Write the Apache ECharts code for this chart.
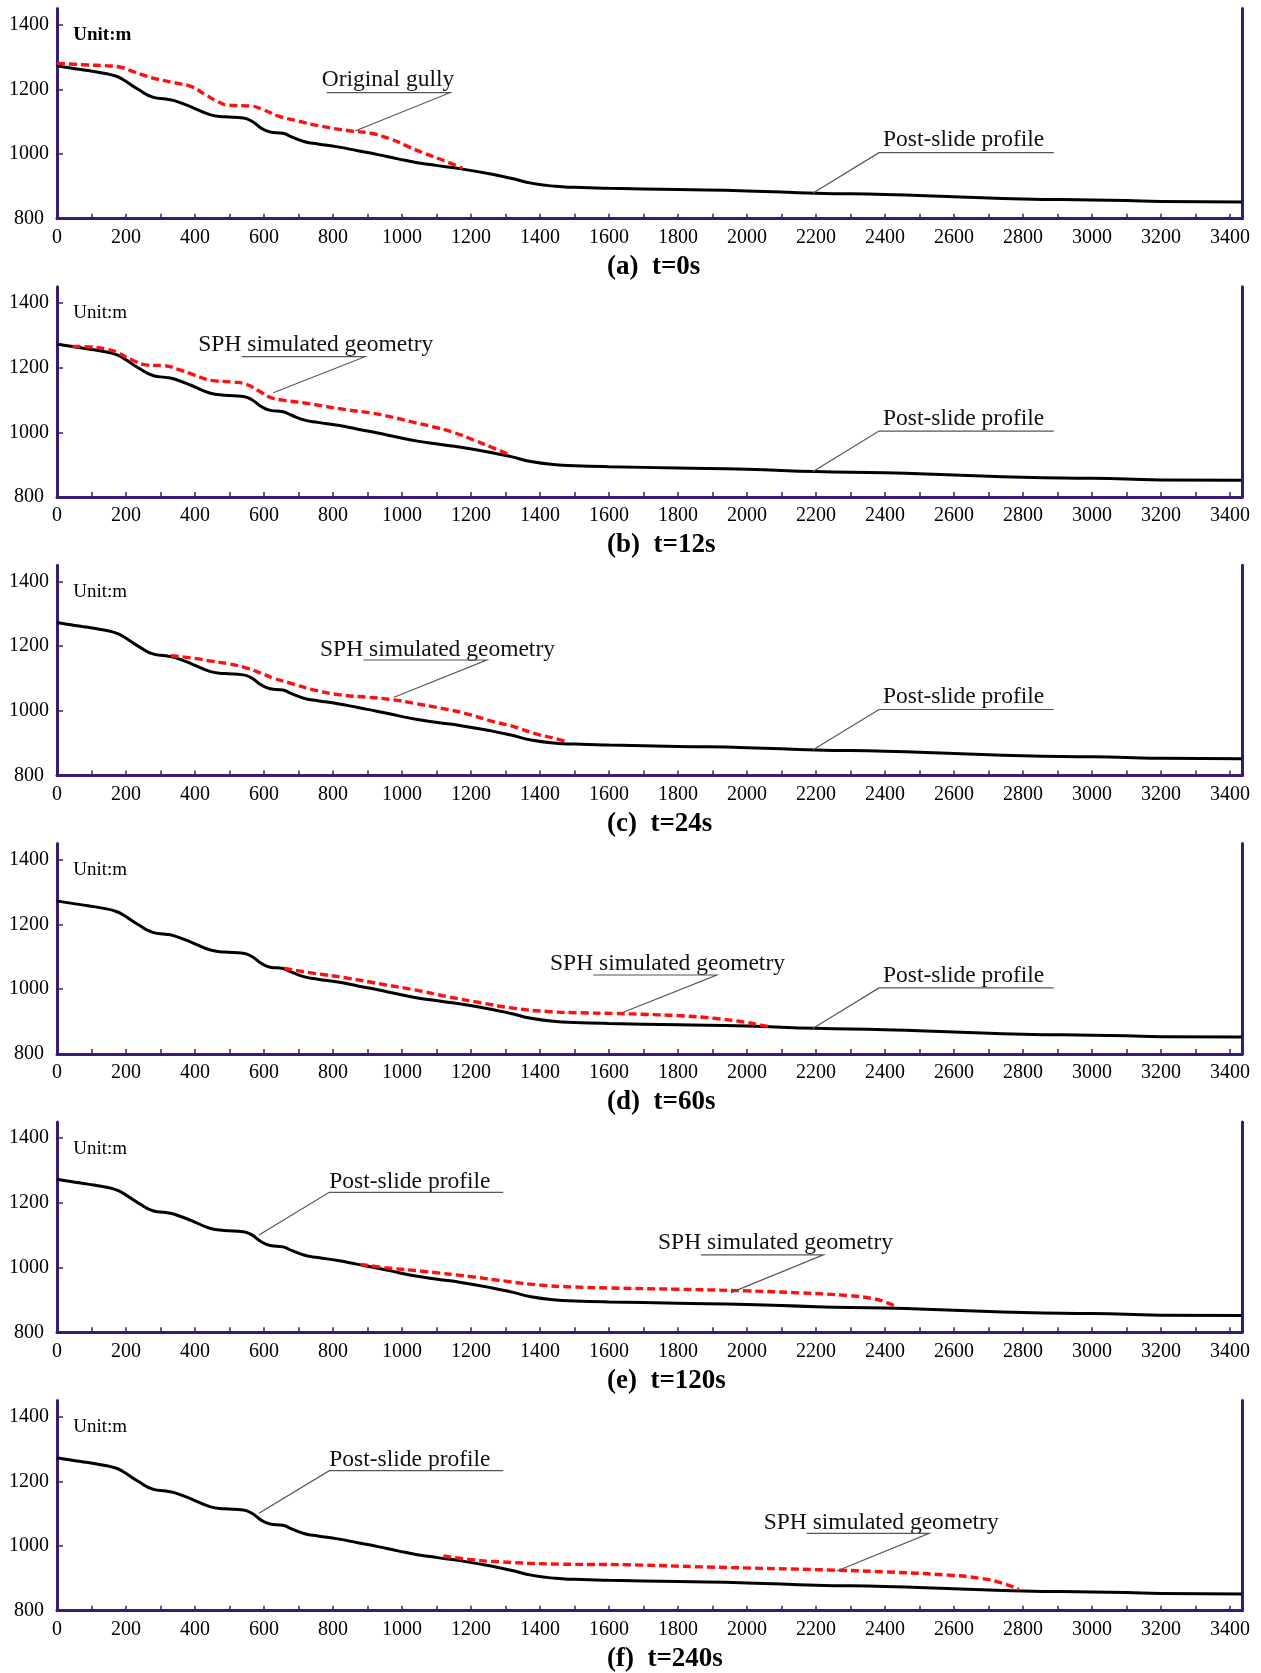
<!DOCTYPE html>
<html>
<head>
<meta charset="utf-8">
<script src="https://cdn.jsdelivr.net/npm/echarts@6/dist/echarts.min.js"></script>
<style>
html,body{margin:0;padding:0;background:#ffffff;}
#chart{width:1261px;height:1673px;}
</style>
</head>
<body>
<div id="chart"></div>
<script>
// ---------------- DATA (metres) ----------------
// Post-slide profile (same in every panel): [distance, elevation]
const postSlideProfile = [
  [0,1273],[40,1266],[90,1258],[140,1249],[170,1241],[190,1231],[235,1200],[280,1175],
  [315,1170],[340,1165],[390,1145],[445,1121],[485,1115],[540,1111],[565,1101],[592,1080],
  [618,1068],[655,1064],[680,1053],[718,1038],[756,1031],[814,1022],[872,1010],[930,998],
  [988,985],[1045,973],[1103,964],[1171,954],[1258,938],[1316,925],[1374,910],[1446,900],
  [1500,897],[1600,894],[1800,890],[2000,886],[2200,879],[2400,875],[2600,868],[2800,861],
  [3000,858],[3100,856],[3200,853],[3435,852]
];
// (a) t=0s : original gully
const originalGully = [
  [0,1280],[40,1278],[90,1275],[140,1273],[185,1268],[215,1257],[255,1242],[292,1231],
  [350,1218],[390,1208],[428,1185],[466,1162],[495,1151],[563,1148],[600,1136],[640,1118],
  [698,1102],[765,1086],[852,1071],[910,1064],[968,1046],[1007,1028],[1065,1002],[1123,979],[1175,956]
];
// SPH simulated geometry at the later times
const sph12s = [
  [45,1266],[100,1264],[148,1256],[177,1246],[215,1225],[264,1208],[312,1206],[351,1195],
  [399,1177],[447,1161],[505,1156],[548,1149],[582,1130],[621,1107],[659,1099],[717,1091],
  [775,1081],[833,1071],[910,1060],[968,1048],[1026,1033],[1084,1019],[1152,999],[1209,976],
  [1258,955],[1310,932]
];
const sph24s = [
  [330,1170],[400,1162],[450,1153],[500,1145],[553,1131],[592,1116],[630,1100],[678,1085],
  [746,1064],[823,1049],[900,1042],[968,1035],[1036,1023],[1113,1008],[1190,990],[1267,966],
  [1325,951],[1383,930],[1441,915],[1480,903]
];
const sph60s = [
  [659,1064],[746,1049],[843,1034],[939,1016],[1036,998],[1132,977],[1229,958],[1325,941],
  [1422,931],[1518,927],[1615,925],[1711,922],[1808,918],[1904,910],[1982,900],[2040,889],[2067,884]
];
const sph120s = [
  [880,1010],[950,1000],[1065,988],[1200,972],[1300,958],[1400,946],[1500,940],[1600,937],
  [1800,933],[2000,928],[2150,922],[2300,913],[2370,903],[2405,892],[2435,878]
];
const sph240s = [
  [1120,969],[1200,958],[1283,951],[1457,944],[1653,942],[1886,935],[2235,926],[2400,920],
  [2584,910],[2677,900],[2735,887],[2788,866]
];
// tick labels
const xTickLabels = [0,200,400,600,800,1000,1200,1400,1600,1800,2000,2200,2400,2600,2800,3000,3200,3400];
const xMinorTicks = [100,200,300,400,500,600,700,800,900,1000,1100,1200,1300,1400,1500,1600,1700,
  1800,1900,2000,2100,2200,2300,2400,2500,2600,2700,2800,2900,3000,3100,3200,3300,3400];
const yTickLabels = [800,1000,1200,1400];
const yTicks = [1000,1200,1400];
const panelCaptions = ['(a)  t=0s','(b)  t=12s','(c)  t=24s','(d)  t=60s','(e)  t=120s','(f)  t=240s'];
const panelRedLines = [originalGully, sph12s, sph24s, sph60s, sph120s, sph240s];

// ---------------- LAYOUT ----------------
const PURPLE = '#3a1a72';
const SERIF = '"Liberation Serif","Times New Roman",serif';
const PANEL_STEP = 278.4;
const GRID_TOP0 = 8.4, GRID_H = 210.3, GRID_LEFT = 57, GRID_RIGHT = 19;
const X_MAX = 3435, Y_MIN = 800, Y_MAX = 1450;
const ANN_FONT = 23.5;

// annotation layout (pixel positions relative to panel offset)
const postA = {t:'Post-slide profile', tx:883, ty:140, u:[879,1053.7,152.7], from:'L', to:[812.7,193.3]};
const postE = {t:'Post-slide profile', tx:329.3, ty:68, u:[329.3,503.2,78.7], from:'L', to:[259,121.3]};
const annotations = [
  [{t:'Original gully', tx:321.7, ty:79.3, u:[326.7,450,92.7], from:'R', to:[355,131]}, postA],
  [{t:'SPH simulated geometry', tx:198.3, ty:66.6, u:[241.7,365,78.3], from:'R', to:[273.3,114.3]}, postA],
  [{t:'SPH simulated geometry', tx:320, ty:92.5, u:[363.3,486.7,103.2], from:'R', to:[394,140.5]}, postA],
  [{t:'SPH simulated geometry', tx:550, ty:128.1, u:[593.3,716.7,139.8], from:'R', to:[623.3,177.1]}, postA],
  [postE, {t:'SPH simulated geometry', tx:658, ty:129, u:[701,823.4,141.3], from:'R', to:[731,179]}],
  [postE, {t:'SPH simulated geometry', tx:763.7, ty:130.7, u:[806.7,929.2,141.3], from:'R', to:[836.8,179]}]
];

const plain = v => String(v);
const grids = [], xAxes = [], yAxes = [], series = [], graphics = [];
for (let i = 0; i < 6; i++) {
  const off = PANEL_STEP * i;
  grids.push({left: GRID_LEFT, right: GRID_RIGHT, top: GRID_TOP0 + off, height: GRID_H, containLabel: false});
  xAxes.push({
    type:'value', gridIndex:i, min:0, max:X_MAX,
    axisLine:{show:true, onZero:false, lineStyle:{color:PURPLE, width:3}},
    axisTick:{show:true, inside:true, length:5, customValues:xMinorTicks, lineStyle:{color:PURPLE, width:1.5}},
    axisLabel:{show:true, customValues:xTickLabels, formatter:plain, color:'#000', fontFamily:SERIF, fontSize:20, margin:9},
    splitLine:{show:false}
  });
  yAxes.push({
    type:'value', gridIndex:i, min:Y_MIN, max:Y_MAX, position:'left',
    axisLine:{show:true, onZero:false, lineStyle:{color:PURPLE, width:3}},
    axisTick:{show:true, inside:true, length:6, customValues:yTicks, lineStyle:{color:PURPLE, width:1.5}},
    axisLabel:{show:true, customValues:yTickLabels, formatter:plain, color:'#000', fontFamily:SERIF, fontSize:20, align:'center', margin:28},
    splitLine:{show:false}
  });
  yAxes.push({
    type:'value', gridIndex:i, min:Y_MIN, max:Y_MAX, position:'right',
    axisLine:{show:true, onZero:false, lineStyle:{color:PURPLE, width:3}},
    axisTick:{show:false}, axisLabel:{show:false}, splitLine:{show:false}
  });
  series.push({
    type:'line', xAxisIndex:i, yAxisIndex:2*i, data:postSlideProfile, symbol:'none',
    smooth:0.5, lineStyle:{color:'#000', width:3}, z:2, silent:true
  });
  series.push({
    type:'line', xAxisIndex:i, yAxisIndex:2*i, data:panelRedLines[i], symbol:'none',
    smooth:0.5, lineStyle:{color:'#ff1010', width:3.4, type:[8,4]}, z:3, silent:true
  });
  // Unit label
  graphics.push({type:'text', x:73.3, y:35 + off - 9.5, z:10, silent:true,
    style:{text:'Unit:m', font:(i===0?'bold ':'') + '19px ' + SERIF, fill:'#000'}});
  // caption
  graphics.push({type:'text', x:607, y:267 + off - 13.5, z:10, silent:true,
    style:{text:panelCaptions[i], font:'bold 27px ' + SERIF, fill:'#000'}});
  // annotations
  annotations[i].forEach(a => {
    graphics.push({type:'text', x:a.tx, y:a.ty + off - ANN_FONT/2, z:10, silent:true,
      style:{text:a.t, font:ANN_FONT + 'px ' + SERIF, fill:'#111'}});
    const y = a.u[2] + off;
    const pts = a.from === 'R'
      ? [[a.u[0], y],[a.u[1], y],[a.to[0], a.to[1] + off]]
      : [[a.u[1], y],[a.u[0], y],[a.to[0], a.to[1] + off]];
    graphics.push({type:'polyline', z:10, silent:true, shape:{points:pts},
      style:{stroke:'#555', lineWidth:1.2, fill:null}});
  });
}

const chart = echarts.init(document.getElementById('chart'), null, {renderer:'canvas'});
chart.setOption({
  backgroundColor:'#ffffff',
  animation:false,
  grid:grids, xAxis:xAxes, yAxis:yAxes, series:series, graphic:graphics
});
</script>
</body>
</html>
